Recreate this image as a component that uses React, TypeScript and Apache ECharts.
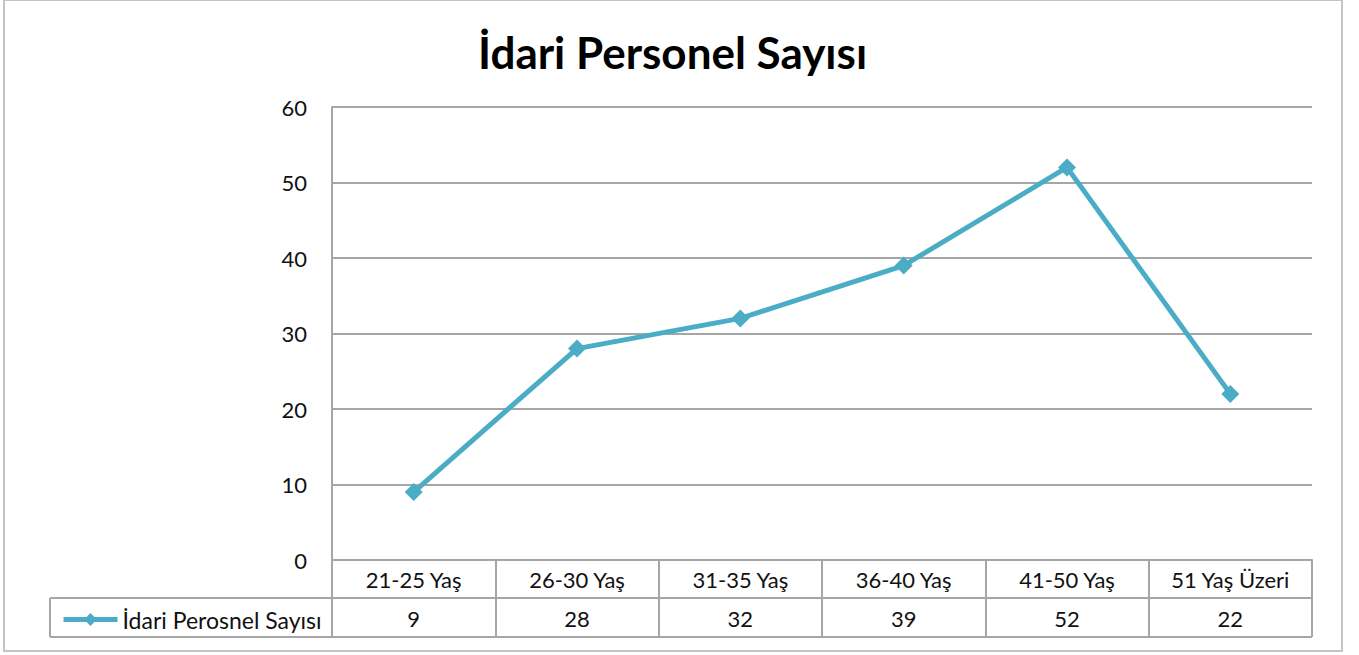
import React, { useEffect, useRef } from "react";
import * as echarts from "echarts";

const title = "İdari Personel Sayısı";
const seriesName = "İdari Perosnel Sayısı";
const categories = ["21-25 Yaş", "26-30 Yaş", "31-35 Yaş", "36-40 Yaş", "41-50 Yaş", "51 Yaş Üzeri"];
const values = [9, 28, 32, 39, 52, 22];
const yTicks = { min: 0, max: 60, interval: 10 };

const FONT = "Lato";
const LINE_COLOR = "#4bacc6";
const GRID_COLOR = "#a6a6a6";
const TEXT_COLOR = "#111111";

export default function App() {
  const ref = useRef<HTMLDivElement>(null);
  useEffect(() => {
    if (!ref.current) return;
    const chart = echarts.init(ref.current, null, { renderer: "svg" });
    const gridLeft = 332;
    const gridRight = 1312;
    const gridTop = 107;
    const gridBottom = 560;
    const row2Top = 598;
    const row2Bottom = 637;
    const option: any = {
      animation: false,
      backgroundColor: "#ffffff",
      title: {
        text: title,
        left: 473,
        top: 25,
        textStyle: { fontFamily: FONT, fontSize: 44, fontWeight: "bold", color: "#000" },
      },
      legend: {
        data: [seriesName],
        left: 56,
        top: row2Top + 5,
        itemWidth: 54,
        itemHeight: 16,
        itemGap: 4,
        lineStyle: { width: 5 },
        textStyle: { fontFamily: FONT, fontSize: 23, color: TEXT_COLOR },
      },
      grid: {
        left: gridLeft,
        right: 1359 - gridRight,
        top: gridTop,
        bottom: 655 - gridBottom,
        containLabel: false,
      },
      xAxis: {
        type: "category",
        data: categories,
        boundaryGap: true,
        axisLine: { show: true, lineStyle: { color: GRID_COLOR, width: 2 } },
        axisTick: { show: true, length: row2Bottom - gridBottom, lineStyle: { color: GRID_COLOR, width: 2 } },
        axisLabel: { margin: 8, fontFamily: FONT, fontSize: 22, color: TEXT_COLOR },
      },
      yAxis: {
        type: "value",
        min: yTicks.min,
        max: yTicks.max,
        interval: yTicks.interval,
        axisLine: { show: true, lineStyle: { color: GRID_COLOR, width: 2 } },
        axisTick: { show: false },
        splitLine: { show: true, lineStyle: { color: GRID_COLOR, width: 2 } },
        axisLabel: { margin: 25, fontFamily: FONT, fontSize: 22, color: TEXT_COLOR },
      },
      series: [
        {
          name: seriesName,
          type: "line",
          data: values,
          symbol: "diamond",
          symbolSize: 18,
          lineStyle: { color: LINE_COLOR, width: 5 },
          itemStyle: { color: LINE_COLOR },
        },
      ],
    };
    chart.setOption(option);

    const valueTexts = categories.map((c, i) => {
      const x = chart.convertToPixel({ xAxisIndex: 0 }, c) as number;
      return {
        type: "text",
        x,
        y: (row2Top + row2Bottom) / 2 + 1,
        style: {
          text: String(values[i]),
          fontFamily: FONT,
          fontSize: 22,
          fill: TEXT_COLOR,
          align: "center",
          verticalAlign: "middle",
        },
      };
    });

    chart.setOption({
      graphic: [
        {
          type: "rect",
          shape: { x: 4, y: 0, width: 1338, height: 651 },
          style: { fill: "none", stroke: "#c4c4c4", lineWidth: 2 },
          silent: true,
        },
        {
          type: "line",
          shape: { x1: 50, y1: row2Top, x2: gridRight, y2: row2Top },
          style: { stroke: GRID_COLOR, lineWidth: 2 },
        },
        {
          type: "line",
          shape: { x1: 50, y1: row2Bottom, x2: gridRight, y2: row2Bottom },
          style: { stroke: GRID_COLOR, lineWidth: 2 },
        },
        {
          type: "line",
          shape: { x1: 50, y1: row2Top, x2: 50, y2: row2Bottom },
          style: { stroke: GRID_COLOR, lineWidth: 2 },
        },
        ...valueTexts,
      ],
    });

    return () => chart.dispose();
  }, []);
  return (
    <div
      ref={ref}
      style={{ position: "absolute", left: 0, top: 0, width: 1359, height: 655 }}
    />
  );
}
